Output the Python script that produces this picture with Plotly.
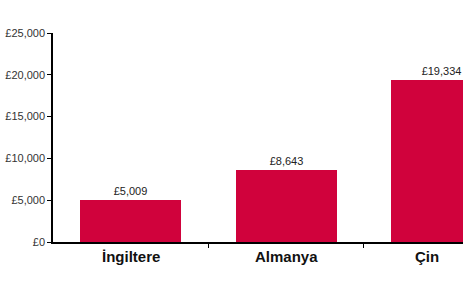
import plotly.graph_objects as go

categories = ["İngiltere", "Almanya", "Çin"]
values = [5009, 8643, 19334]
y_ticks = [0, 5000, 10000, 15000, 20000, 25000]
y_tick_labels = [f"£{v:,}" for v in y_ticks]

bar_color = "#D0023C"
bar_width = 0.65
x_end = 2.137

idx = list(range(len(categories)))
# label positions: centre of the visible part of each bar
label_x = []
for i in idx:
    lo = i - bar_width / 2
    hi = min(i + bar_width / 2, x_end)
    label_x.append((lo + hi) / 2)

fig = go.Figure(go.Bar(
    x=idx, y=values, width=bar_width,
    marker=dict(color=bar_color, line=dict(width=0)),
    text=[f"£{v:,}" for v in values],
    textposition="outside",
    textfont=dict(family="Arial, Liberation Sans", size=11, color="#222"),
    cliponaxis=False,
))

for x, c in zip(label_x, categories):
    fig.add_annotation(x=x, y=0, xref="x", yref="paper", text=f"<b>{c}</b>",
                       showarrow=False, yanchor="middle", yshift=-14,
                       font=dict(family="Arial, Liberation Sans", size=15, color="#111"))

fig.update_layout(
    width=468, height=286,
    margin=dict(l=53, r=5, t=33, b=44),
    plot_bgcolor="white", paper_bgcolor="white",
    showlegend=False,
    bargap=0,
    font=dict(family="Arial, Liberation Sans", size=11, color="#222"),
)
fig.update_xaxes(
    range=[-0.5, x_end], showgrid=False, zeroline=False,
    showline=True, linecolor="black", linewidth=1.5,
    tickvals=[0.5, 1.5], ticks="outside", ticklen=4, tickcolor="black",
    showticklabels=False,
)
fig.update_yaxes(
    range=[0, 25000], tickvals=y_ticks, ticktext=y_tick_labels,
    showgrid=False, zeroline=False,
    showline=True, linecolor="black", linewidth=1.5,
    ticks="outside", ticklen=4, tickcolor="black",
    tickfont=dict(family="Arial, Liberation Sans", size=11, color="#333"),
)

fig.write_html("out.html")
